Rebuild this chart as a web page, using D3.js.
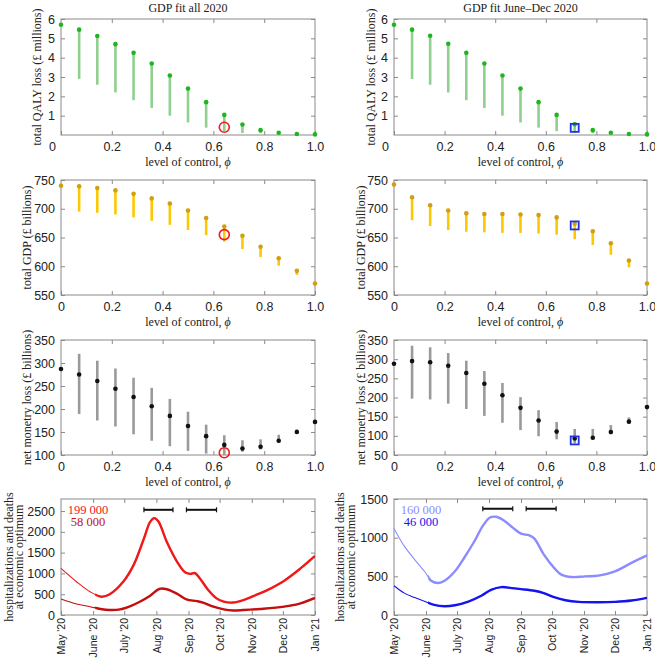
<!DOCTYPE html>
<html>
<head>
<meta charset="utf-8">
<script src="https://cdn.jsdelivr.net/npm/d3@7"></script>
<style>
  body { margin: 0; background: #fff; }
  svg { font-family: "Liberation Serif", "DejaVu Serif", serif; }
</style>
</head>
<body>
<svg id="fig" width="655" height="658"></svg>
<script>
// level of control, phi = k/14
const phi = d3.range(15).map(k => k / 14);

// QALY loss (£ millions) - dot value and lower end of the range
const qalyLeft = [5.7, 5.45, 5.12, 4.7, 4.25, 3.7, 3.08, 2.4, 1.7, 1.04, 0.54, 0.25, 0.12, 0.05, 0.03];
const qalyLeftLow = [5.7, 2.9, 2.6, 2.2, 1.8, 1.4, 1.0, 0.65, 0.38, 0.2, 0.1, 0.1, 0.07, 0.03, 0.03];
const qalyRight = [5.7, 5.45, 5.13, 4.72, 4.25, 3.7, 3.08, 2.4, 1.7, 1.04, 0.55, 0.25, 0.12, 0.05, 0.03];
const qalyRightLow = [5.7, 2.9, 2.6, 2.2, 1.8, 1.4, 1.0, 0.65, 0.38, 0.2, 0.1, 0.1, 0.07, 0.03, 0.03];

// total GDP (£ billions)
const gdpLeft = [740, 739, 736, 732, 726, 718, 709, 697, 684, 669, 653, 634, 614, 592, 570];
const gdpLeftLow = [740, 695, 693, 690, 685, 679, 672, 663, 654, 643, 630, 616, 601, 585, 570];
const gdpRight = [742, 720, 706, 697, 692, 691, 691, 690, 689, 685, 674, 661, 640, 610, 570];
const gdpRightLow = [742, 680, 670, 663, 660, 659, 658, 658, 657, 655, 647, 637, 620, 598, 570];

// net monetary loss (£ billions) - dot, lower, upper
const netLeft = [287, 275, 261, 244, 226, 206, 185, 163, 141, 122, 114, 118, 131, 150, 172];
const netLeftLow = [287, 189, 175, 162, 145, 131, 119, 109, 103, 100, 107, 112, 127, 147, 172];
const netLeftHigh = [287, 320, 305, 288, 268, 246, 222, 194, 166, 143, 132, 134, 144, 156, 172];
const netRight = [288, 295, 292, 283, 264, 236, 206, 173, 140, 111, 93, 95, 110, 137, 175];
const netRightLow = [288, 197, 195, 184, 170, 152, 134, 115, 99, 91, 80, 93, 104, 132, 175];
const netRightHigh = [288, 335, 331, 316, 296, 269, 238, 201, 167, 136, 118, 118, 128, 148, 175];

// economic optimum markers [phi, value]
const optLeft = { qaly: [9 / 14, 0.4], gdp: [9 / 14, 655], net: [9 / 14, 105] };
const optRight = { qaly: [10 / 14, 0.37], gdp: [10 / 14, 671], net: [10 / 14, 88] };

// hospitalizations / deaths at economic optimum
const hospLeft = [
  ["2020-05-01", 1120], ["2020-05-16", 800], ["2020-05-29", 560], ["2020-06-09", 440], ["2020-06-17", 500],
  ["2020-06-30", 800], ["2020-07-10", 1200], ["2020-07-20", 1840], ["2020-07-26", 2240], ["2020-07-30", 2330],
  ["2020-08-03", 2250], ["2020-08-11", 1760], ["2020-08-21", 1280], ["2020-08-29", 1020], ["2020-09-03", 990],
  ["2020-09-07", 1010], ["2020-09-12", 880], ["2020-09-20", 600], ["2020-09-28", 400], ["2020-10-05", 320],
  ["2020-10-14", 300], ["2020-10-24", 360], ["2020-11-03", 460], ["2020-11-16", 600], ["2020-12-02", 820],
  ["2020-12-18", 1120], ["2021-01-01", 1420]
];
const deathsLeft = [
  ["2020-05-01", 385], ["2020-05-16", 265], ["2020-05-29", 200], ["2020-06-08", 145], ["2020-06-17", 120],
  ["2020-06-27", 135], ["2020-07-07", 215], ["2020-07-16", 320], ["2020-07-26", 465], ["2020-08-04", 630],
  ["2020-08-11", 620], ["2020-08-21", 510], ["2020-08-30", 375], ["2020-09-09", 335], ["2020-09-15", 300],
  ["2020-09-25", 200], ["2020-10-05", 135], ["2020-10-14", 110], ["2020-10-24", 120], ["2020-11-09", 145],
  ["2020-12-02", 200], ["2020-12-18", 280], ["2021-01-01", 410]
];
const hospRight = [
  ["2020-05-01", 1120], ["2020-05-11", 890], ["2020-05-21", 717], ["2020-05-31", 556], ["2020-06-06", 443],
  ["2020-06-13", 413], ["2020-06-19", 443], ["2020-06-29", 565], ["2020-07-08", 740], ["2020-07-18", 957],
  ["2020-07-26", 1152], ["2020-08-02", 1260], ["2020-08-08", 1270], ["2020-08-16", 1217], ["2020-08-24", 1130],
  ["2020-09-01", 1052], ["2020-09-09", 1030], ["2020-09-14", 987], ["2020-09-23", 783], ["2020-10-03", 609],
  ["2020-10-10", 522], ["2020-10-20", 491], ["2020-11-02", 500], ["2020-11-15", 509], ["2020-12-01", 565],
  ["2020-12-17", 674], ["2021-01-01", 770]
];
const deathsRight = [
  ["2020-05-01", 378], ["2020-05-11", 283], ["2020-05-21", 226], ["2020-05-31", 174], ["2020-06-09", 130],
  ["2020-06-19", 113], ["2020-06-29", 126], ["2020-07-12", 174], ["2020-07-25", 252], ["2020-08-03", 326],
  ["2020-08-13", 361], ["2020-08-23", 348], ["2020-09-01", 335], ["2020-09-14", 313], ["2020-09-23", 283],
  ["2020-10-03", 230], ["2020-10-14", 191], ["2020-10-27", 170], ["2020-11-15", 165], ["2020-12-01", 170],
  ["2020-12-17", 187], ["2021-01-01", 222]
];
// intervals drawn as black bars [start, end, level]
const barsLeft = [["2020-07-20", "2020-08-17", 2530], ["2020-08-30", "2020-09-28", 2530]];
const barsRight = [["2020-07-26", "2020-08-24", 1374], ["2020-09-06", "2020-10-05", 1374]];

const totalsLeft = ["199 000", "58 000"];
const totalsRight = ["160 000", "46 000"];

const monthLabels = ["May '20", "June '20", "July '20", "Aug '20", "Sep '20", "Oct '20", "Nov '20", "Dec '20", "Jan '21"];
const titles = ["GDP fit all 2020", "GDP fit June\u2013Dec 2020"];

const svg = d3.select("#fig");
const parseDate = d3.utcParse("%Y-%m-%d");

const cols = [[61, 315], [394, 647]];
const rows = [[19, 135], [180, 295], [340, 455], [499, 615]];
const frameColor = "#8a8a8a";
const fs = "12px";

function frame(g, x, y, w, h) {
  g.append("rect").attr("x", x).attr("y", y).attr("width", w).attr("height", h)
    .attr("fill", "none").attr("stroke", frameColor);
}

function styleAxis(a) {
  a.select(".domain").remove();
  a.selectAll(".tick line").attr("stroke", frameColor);
  a.selectAll(".tick text").attr("fill", "#222").style("font-size", "12.5px");
}

function phiPanel(col, row, opts) {
  const [x0, x1] = cols[col], [y0, y1] = rows[row];
  const g = svg.append("g");
  const x = d3.scaleLinear().domain([0, 1]).range([x0, x1]);
  const y = d3.scaleLinear().domain(opts.domain).range([y1, y0]);
  const fmt = d => d === 0 ? "0" : d3.format(".1f")(d);

  const xb = g.append("g").attr("transform", `translate(0,${y1})`)
    .call(d3.axisBottom(x).tickValues([0, 0.2, 0.4, 0.6, 0.8, 1]).tickFormat(fmt).tickSize(-4).tickPadding(7));
  styleAxis(xb);
  if (opts.shiftZero) xb.selectAll(".tick text").filter(d => d === 0).attr("dx", -9);
  const xt = g.append("g").attr("transform", `translate(0,${y0})`)
    .call(d3.axisTop(x).tickValues([0.2, 0.4, 0.6, 0.8]).tickFormat("").tickSize(-4));
  styleAxis(xt);
  const yl = g.append("g").attr("transform", `translate(${x0},0)`)
    .call(d3.axisLeft(y).tickValues(opts.ticks).tickFormat(d3.format("d")).tickSize(-4).tickPadding(6));
  styleAxis(yl);
  const yr = g.append("g").attr("transform", `translate(${x1},0)`)
    .call(d3.axisRight(y).tickValues(opts.ticks).tickFormat("").tickSize(-4));
  styleAxis(yr);
  frame(g, x0, y0, x1 - x0, y1 - y0);

  const pts = phi.map((p, i) => ({ p, v: opts.values[i], lo: opts.low[i], hi: opts.high ? opts.high[i] : opts.values[i] }));
  g.append("g").selectAll("line").data(pts.filter(d => d.lo !== d.hi)).join("line")
    .attr("x1", d => x(d.p)).attr("x2", d => x(d.p))
    .attr("y1", d => y(d.lo)).attr("y2", d => y(d.hi))
    .attr("stroke", opts.barColor).attr("stroke-width", 2.6);
  g.append("g").selectAll("circle").data(pts).join("circle")
    .attr("cx", d => x(d.p)).attr("cy", d => y(d.v)).attr("r", 2.3)
    .attr("fill", opts.dotColor);

  const [mp, mv] = opts.marker;
  if (col === 0) {
    g.append("circle").attr("cx", x(mp)).attr("cy", y(mv)).attr("r", 5)
      .attr("fill", "none").attr("stroke", "#ee1c1c").attr("stroke-width", 1.6);
  } else {
    g.append("rect").attr("x", x(mp) - 4).attr("y", y(mv) - 4).attr("width", 8).attr("height", 8)
      .attr("fill", "none").attr("stroke", "#1e32e6").attr("stroke-width", 1.8);
  }

  // axis labels
  const cx = (x0 + x1) / 2;
  const xl = g.append("text").attr("x", cx).attr("y", y1 + 31).attr("text-anchor", "middle")
    .style("font-size", fs).attr("fill", "#222").text("level of control, ");
  xl.append("tspan").style("font-style", "italic").text("\u03d5");
  g.append("text").attr("transform", `translate(${opts.labelX},${(y0 + y1) / 2}) rotate(-90)`)
    .attr("text-anchor", "middle").style("font-size", fs).attr("fill", "#222").text(opts.label);
}

function timePanel(col, hosp, deaths, bars, totals, opts) {
  const [x0, x1] = cols[col], [y0, y1] = rows[3];
  const g = svg.append("g");
  const x = d3.scaleUtc().domain([parseDate("2020-05-01"), parseDate("2021-01-01")]).range([x0, x1]);
  const y = d3.scaleLinear().domain(opts.domain).range([y1, y0]);
  const months = d3.utcMonth.range(parseDate("2020-05-01"), parseDate("2021-01-02"));

  const xb = g.append("g").attr("transform", `translate(0,${y1})`)
    .call(d3.axisBottom(x).tickValues(months).tickFormat((d, i) => monthLabels[i]).tickSize(-4));
  styleAxis(xb);
  xb.selectAll(".tick text").attr("transform", "rotate(-90)").attr("text-anchor", "end")
    .attr("x", -3).attr("y", 0).attr("dy", "0.35em").style("font-size", "10.5px");
  const xt = g.append("g").attr("transform", `translate(0,${y0})`)
    .call(d3.axisTop(x).tickValues(months.slice(1, -1)).tickFormat("").tickSize(-4));
  styleAxis(xt);
  const yl = g.append("g").attr("transform", `translate(${x0},0)`)
    .call(d3.axisLeft(y).tickValues(opts.ticks).tickFormat(d3.format("d")).tickSize(-4).tickPadding(6));
  styleAxis(yl);
  const yr = g.append("g").attr("transform", `translate(${x1},0)`)
    .call(d3.axisRight(y).tickValues(opts.ticks).tickFormat("").tickSize(-4));
  styleAxis(yr);
  frame(g, x0, y0, x1 - x0, y1 - y0);

  const clipId = "thick" + col;
  const thickFrom = x(parseDate("2020-06-03"));
  svg.append("clipPath").attr("id", clipId).append("rect")
    .attr("x", thickFrom).attr("y", y0).attr("width", x1 - thickFrom).attr("height", y1 - y0);

  const line = d3.line().x(d => x(parseDate(d[0]))).y(d => y(d[1])).curve(d3.curveCatmullRom.alpha(0.5));
  [[hosp, opts.hospColor], [deaths, opts.deathColor]].forEach(([s, c]) => {
    g.append("path").attr("d", line(s)).attr("fill", "none").attr("stroke", c).attr("stroke-width", 1.1);
    g.append("path").attr("d", line(s)).attr("fill", "none").attr("stroke", c).attr("stroke-width", 2.4)
      .attr("clip-path", `url(#${clipId})`);
  });

  bars.forEach(([a, b, v]) => {
    const xa = x(parseDate(a)), xb2 = x(parseDate(b)), yv = y(v);
    g.append("line").attr("x1", xa).attr("x2", xb2).attr("y1", yv).attr("y2", yv)
      .attr("stroke", "#111").attr("stroke-width", 2);
    [xa, xb2].forEach(xx => g.append("line").attr("x1", xx).attr("x2", xx)
      .attr("y1", yv - 2.5).attr("y2", yv + 2.5).attr("stroke", "#111").attr("stroke-width", 1.2));
  });

  g.append("text").attr("x", x0 + 27).attr("y", 514).attr("text-anchor", "middle")
    .style("font-size", "12.5px").attr("fill", opts.hospColor).text(totals[0]);
  g.append("text").attr("x", x0 + 27).attr("y", 526).attr("text-anchor", "middle")
    .style("font-size", "12.5px").attr("fill", opts.deathColor).text(totals[1]);

  const lab = g.append("text").attr("transform", `translate(${opts.labelX},${(y0 + y1) / 2}) rotate(-90)`)
    .attr("text-anchor", "middle").style("font-size", fs).attr("fill", "#222");
  lab.append("tspan").attr("x", 0).attr("dy", 0).text("hospitalizations and deaths");
  lab.append("tspan").attr("x", 0).attr("dy", 10.5).text("at economic optimum");
}

// titles
titles.forEach((t, i) => {
  svg.append("text").attr("x", (cols[i][0] + cols[i][1]) / 2).attr("y", 12).attr("text-anchor", "middle")
    .style("font-size", fs).attr("fill", "#222").text(t);
});

const greenBar = "#8fcf8f", greenDot = "#1fb51f";
const goldBar = "#fcc800", goldDot = "#d19f10";
const grayBar = "#9a9a9a", blackDot = "#111";

phiPanel(0, 0, { domain: [0, 6], ticks: [1, 2, 3, 4, 5, 6], values: qalyLeft, low: qalyLeftLow,
  barColor: greenBar, dotColor: greenDot, marker: optLeft.qaly, label: "total QALY loss (\u00a3 millions)", labelX: 41, shiftZero: true });
phiPanel(1, 0, { domain: [0, 6], ticks: [1, 2, 3, 4, 5, 6], values: qalyRight, low: qalyRightLow,
  barColor: greenBar, dotColor: greenDot, marker: optRight.qaly, label: "total QALY loss (\u00a3 millions)", labelX: 375, shiftZero: true });
phiPanel(0, 1, { domain: [550, 750], ticks: [550, 600, 650, 700, 750], values: gdpLeft, low: gdpLeftLow,
  barColor: goldBar, dotColor: goldDot, marker: optLeft.gdp, label: "total GDP (\u00a3 billions)", labelX: 31 });
phiPanel(1, 1, { domain: [550, 750], ticks: [550, 600, 650, 700, 750], values: gdpRight, low: gdpRightLow,
  barColor: goldBar, dotColor: goldDot, marker: optRight.gdp, label: "total GDP (\u00a3 billions)", labelX: 365 });
phiPanel(0, 2, { domain: [100, 350], ticks: [100, 150, 200, 250, 300, 350], values: netLeft, low: netLeftLow, high: netLeftHigh,
  barColor: grayBar, dotColor: blackDot, marker: optLeft.net, label: "net monetry loss (\u00a3 billions)", labelX: 31 });
phiPanel(1, 2, { domain: [50, 350], ticks: [50, 100, 150, 200, 250, 300, 350], values: netRight, low: netRightLow, high: netRightHigh,
  barColor: grayBar, dotColor: blackDot, marker: optRight.net, label: "net monetry loss (\u00a3 billions)", labelX: 365 });

timePanel(0, hospLeft, deathsLeft, barsLeft, totalsLeft,
  { domain: [0, 2790], ticks: [0, 500, 1000, 1500, 2000, 2500], hospColor: "#f01818", deathColor: "#c40f0f", labelX: 12.5 });
timePanel(1, hospRight, deathsRight, barsRight, totalsRight,
  { domain: [0, 1500], ticks: [0, 500, 1000, 1500], hospColor: "#8c8cff", deathColor: "#1414f0", labelX: 344 });
</script>
</body>
</html>
